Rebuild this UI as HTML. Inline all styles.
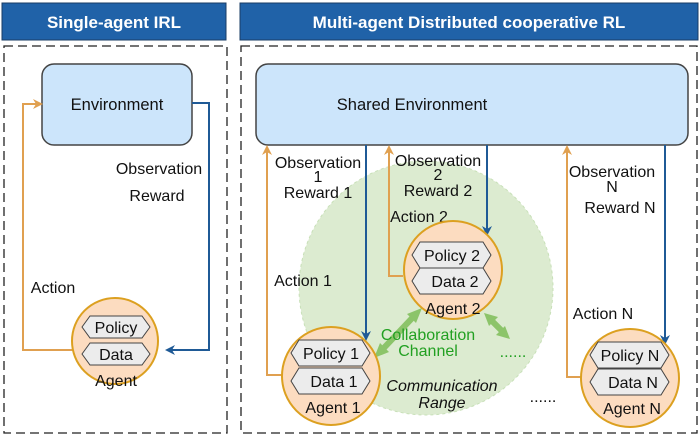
<!DOCTYPE html>
<html><head><style>
body{margin:0;background:#fff;}
svg{display:block;font-family:"Liberation Sans",sans-serif;}
</style></head><body>
<svg width="700" height="437" viewBox="0 0 700 437">
<defs>
<marker id="ab" markerWidth="10" markerHeight="10" refX="8" refY="5" orient="auto" markerUnits="userSpaceOnUse"><path d="M0,0 L10,5 L0,10 L3,5 Z" fill="#1f5a96"/></marker>
<marker id="ao" markerWidth="10" markerHeight="10" refX="8" refY="5" orient="auto" markerUnits="userSpaceOnUse"><path d="M0,0 L10,5 L0,10 L3,5 Z" fill="#e0a050"/></marker>
</defs>
<rect x="2" y="3" width="224" height="37" fill="#2062a8" stroke="#1a3c66" stroke-width="1"/>
<text x="114" y="28" fill="#fff" font-size="17" font-weight="bold" text-anchor="middle">Single-agent IRL</text>
<rect x="240" y="3" width="458" height="37" fill="#2062a8" stroke="#1a3c66" stroke-width="1"/>
<text x="469" y="28" fill="#fff" font-size="17" font-weight="bold" text-anchor="middle">Multi-agent Distributed cooperative RL</text>
<rect x="4" y="46" width="223" height="387" fill="none" stroke="#222" stroke-width="1.3" stroke-dasharray="9,5"/>
<rect x="241" y="46" width="456" height="387" fill="none" stroke="#222" stroke-width="1.3" stroke-dasharray="9,5"/>
<circle cx="426" cy="288" r="127" fill="#dcebd0" stroke="#c8e0b8" stroke-dasharray="3,3"/>
<rect x="42" y="64" width="150" height="81" rx="12" fill="#cce5fb" stroke="#444" stroke-width="1.5"/>
<text x="117" y="110" font-size="16.5" text-anchor="middle" fill="#111">Environment</text>
<rect x="256" y="64" width="432" height="81" rx="12" fill="#cce5fb" stroke="#444" stroke-width="1.5"/>
<text x="412" y="110" font-size="16.5" text-anchor="middle" fill="#111">Shared Environment</text>
<polyline points="192,103 209,103 209,350 167,350" fill="none" stroke="#1f5a96" stroke-width="2" marker-end="url(#ab)"/>
<polyline points="74,350 23,350 23,104 41,104" fill="none" stroke="#e0a050" stroke-width="2" marker-end="url(#ao)"/>
<line x1="366" y1="145" x2="366" y2="339" stroke="#1f5a96" stroke-width="2" marker-end="url(#ab)"/>
<line x1="487" y1="145" x2="487" y2="234" stroke="#1f5a96" stroke-width="2" marker-end="url(#ab)"/>
<line x1="665" y1="145" x2="665" y2="343" stroke="#1f5a96" stroke-width="2" marker-end="url(#ab)"/>
<polyline points="282,375 267,375 267,147" fill="none" stroke="#e0a050" stroke-width="2" marker-end="url(#ao)"/>
<polyline points="403,276 389,276 389,147" fill="none" stroke="#e0a050" stroke-width="2" marker-end="url(#ao)"/>
<polyline points="581,377 567,377 567,147" fill="none" stroke="#e0a050" stroke-width="2" marker-end="url(#ao)"/>
<line x1="380" y1="352" x2="416" y2="314" stroke="#8cc46a" stroke-width="6"/>
<path d="M374,358 L380,343 L389,352 Z" fill="#8cc46a"/>
<path d="M422,308 L416,323 L407,314 Z" fill="#8cc46a"/>
<line x1="489" y1="318" x2="505" y2="334" stroke="#8cc46a" stroke-width="6"/>
<path d="M484,313 L498,317 L489,326 Z" fill="#8cc46a"/>
<path d="M510,339 L496,335 L505,326 Z" fill="#8cc46a"/>
<g font-size="16" fill="#111" text-anchor="middle">
<text x="159" y="174">Observation</text>
<text x="157" y="201">Reward</text>
<text x="53" y="293">Action</text>
<text x="318" y="168">Observation</text>
<text x="318" y="182">1</text>
<text x="318" y="198">Reward 1</text>
<text x="438" y="166">Observation</text>
<text x="438" y="180">2</text>
<text x="438" y="196">Reward 2</text>
<text x="419" y="222">Action 2</text>
<text x="303" y="286">Action 1</text>
<text x="612" y="177">Observation</text>
<text x="612" y="192">N</text>
<text x="620" y="213">Reward N</text>
<text x="603" y="319">Action N</text>
<text x="442" y="391" font-style="italic">Communication</text>
<text x="442" y="408" font-style="italic">Range</text>
<text x="428" y="340" fill="#22a022">Collaboration</text>
<text x="428" y="356" fill="#22a022">Channel</text>
<text x="513" y="357" fill="#22a022">......</text>
<text x="543" y="402">......</text>
</g>
<g font-size="16" fill="#111" text-anchor="middle">
<circle cx="115" cy="341" r="43" fill="#fcdcc0" stroke="#dca020" stroke-width="2"/>
<polygon points="82,327 90,316 142,316 150,327 142,338 90,338" fill="#ececec" stroke="#444"/>
<polygon points="82,354 90,343 142,343 150,354 142,365 90,365" fill="#ececec" stroke="#444"/>
<text x="116" y="333">Policy</text><text x="116" y="360">Data</text><text x="116" y="386">Agent</text>
<circle cx="331" cy="376" r="49" fill="#fcdcc0" stroke="#dca020" stroke-width="2"/>
<polygon points="291,353 299,340 362,340 370,353 362,366 299,366" fill="#ececec" stroke="#444"/>
<polygon points="291,381 299,368 362,368 370,381 362,394 299,394" fill="#ececec" stroke="#444"/>
<text x="331" y="359">Policy 1</text><text x="334" y="387">Data 1</text><text x="333" y="413">Agent 1</text>
<circle cx="453" cy="270" r="49" fill="#fcdcc0" stroke="#dca020" stroke-width="2"/>
<polygon points="412,255 420,242 483,242 491,255 483,268 420,268" fill="#ececec" stroke="#444"/>
<polygon points="412,281 420,268 483,268 491,281 483,294 420,294" fill="#ececec" stroke="#444"/>
<text x="452" y="261">Policy 2</text><text x="455" y="287">Data 2</text><text x="453" y="314">Agent 2</text>
<circle cx="630" cy="378" r="49" fill="#fcdcc0" stroke="#dca020" stroke-width="2"/>
<polygon points="590,355 598,342 661,342 669,355 661,368 598,368" fill="#ececec" stroke="#444"/>
<polygon points="590,382 598,369 661,369 669,382 661,395 598,395" fill="#ececec" stroke="#444"/>
<text x="630" y="361">Policy N</text><text x="633" y="388">Data N</text><text x="632" y="414">Agent N</text>
</g>
</svg>
</body></html>
